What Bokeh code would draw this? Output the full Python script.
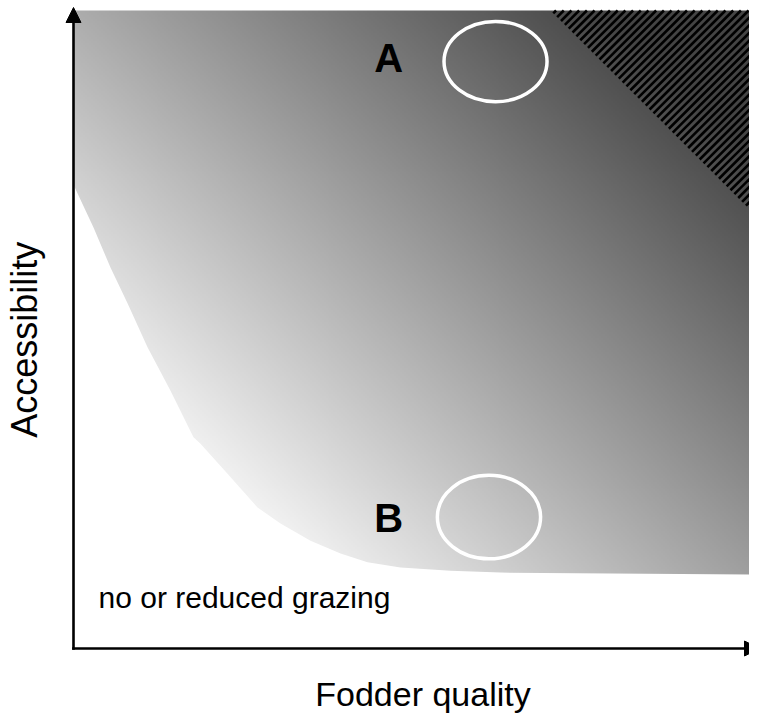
import numpy as np
from bokeh.plotting import figure
from bokeh.models import Range1d, Arrow, NormalHead
from bokeh.embed import file_html
from bokeh.resources import INLINE
from bokeh.core.properties import value

# ---- data (x: fodder quality, y: accessibility; axis origin at 0,0) ----
boundary_x = [0.0, 0.0296, 0.0547, 0.0799, 0.1095, 0.1435, 0.1775, 0.1879, 0.2278, 0.2722,
              0.3062, 0.3506, 0.3950, 0.4349, 0.4837, 0.5577, 0.6317, 1.0118]
boundary_y = [0.727, 0.660, 0.597, 0.541, 0.472, 0.404, 0.331, 0.321, 0.274, 0.221,
              0.196, 0.169, 0.149, 0.135, 0.127, 0.122, 0.119, 0.116]

hatch_x = [0.7056, 1.0118, 1.0118]
hatch_y = [1.0, 1.0, 0.676]

site_names = ["A", "B"]
site_x = [0.6243, 0.6146]
site_y = [0.920, 0.206]
site_w = [0.1524, 0.1527]
site_h = [0.126, 0.131]
label_x = [0.445, 0.445]
label_y = [0.925, 0.204]

region_text = "no or reduced grazing"
x_title = "Fodder quality"
y_title = "Accessibility"

FONT = value("Liberation Sans")

# layout constants (pixels per data unit)
PX_X, PX_Y = 676.0, 638.0
X_MAX = 1.0118

p = figure(width=749, height=713, output_backend="svg", toolbar_location=None,
           x_range=Range1d(-73 / PX_X, 1.0), y_range=Range1d(-65 / PX_Y, 648 / PX_Y),
           x_axis_location=None, y_axis_location=None, min_border=0)
p.grid.visible = False
p.outline_line_color = None
p.background_fill_color = "white"
p.border_fill_color = "white"

# gradient background (style)
nx, ny = 344, 320
gx = (np.arange(nx) + 0.5) / nx * X_MAX
gy = (np.arange(ny) + 0.5) / ny
X, Y = np.meshgrid(gx, gy)
shade = np.clip(308 - 135 * (X * 0.988 + Y), 68, 250).astype(np.uint8)
img = np.empty((ny, nx), dtype=np.uint32)
view = img.view(dtype=np.uint8).reshape((ny, nx, 4))
view[..., 0] = shade
view[..., 1] = shade
view[..., 2] = shade
view[..., 3] = 255
p.image_rgba(image=[img], x=0, y=0, dw=X_MAX, dh=1)

# white area below the boundary
wx = [-0.01] + boundary_x + [X_MAX + 0.01, X_MAX + 0.01, -0.01]
wy = [boundary_y[0]] + boundary_y + [boundary_y[-1], -0.01, -0.01]
p.patch(wx, wy, fill_color="white", line_color=None)

# hatched corner: 45-degree stripes clipped to the triangle (computed in pixel space)
tx = np.array(hatch_x) * PX_X
ty = np.array(hatch_y) * PX_Y
top, right, x0, y2 = ty[0], tx[1], tx[0], ty[2]
m = (y2 - top) / (right - x0)
period = 7.7
cvals = np.arange(np.min(ty - tx) - period, np.max(ty - tx) + period, period)
sxs, sys = [], []
for c in cvals:
    xlo = (top - m * x0 - c) / (1 - m)
    xhi = min(top - c, right)
    if xhi - xlo > 0.5:
        sxs.append([xlo / PX_X, xhi / PX_X])
        sys.append([(xlo + c) / PX_Y, (xhi + c) / PX_Y])
p.multi_line(sxs, sys, line_color="black", line_width=2.6)

# ellipses
p.ellipse(x=site_x, y=site_y, width=site_w, height=site_h,
          fill_color=None, line_color="white", line_width=3.5)

# labels
p.text(x=label_x, y=label_y, text=site_names, text_font=FONT, text_font_style="bold",
       text_font_size="40px", text_align="left", text_baseline="middle",
       text_color="black")
p.text(x=[0.037], y=[0.0807], text=[region_text], text_font=FONT,
       text_font_size="30px", text_align="left", text_baseline="middle",
       text_color="black")
p.text(x=[0.517], y=[-0.0721], text=[x_title], text_font=FONT,
       text_font_size="34px", text_align="center", text_baseline="middle",
       text_color="black")
p.text(x=[-0.0725], y=[0.484], text=[y_title], text_font=FONT, angle=np.pi / 2,
       text_font_size="36px", text_align="center", text_baseline="middle",
       text_color="black")

# axes arrows
p.add_layout(Arrow(end=NormalHead(size=15, fill_color="black", line_color="black", line_width=1),
                   x_start=0, y_start=-0.002, x_end=0, y_end=1.0047,
                   line_width=2.6, line_color="black"))
p.add_layout(Arrow(end=NormalHead(size=15, fill_color="black", line_color="black", line_width=1),
                   x_start=-0.002, y_start=0, x_end=1.0148, y_end=0,
                   line_width=2.6, line_color="black"))

open("out.html", "w").write(file_html(p, INLINE))
